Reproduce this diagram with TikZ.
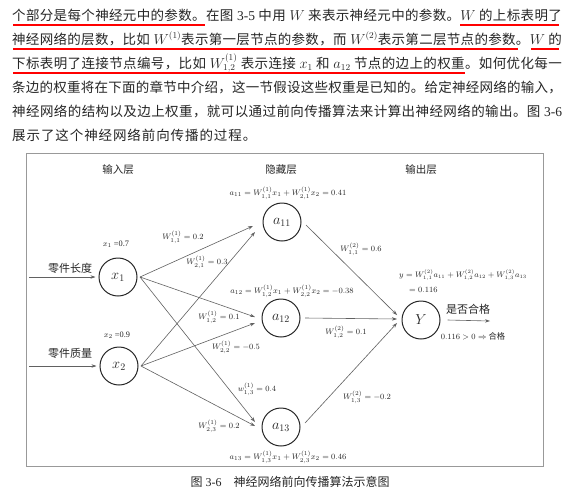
\documentclass[tikz,border=0pt]{standalone}
\usepackage{fontspec}
\setmainfont{Liberation Serif}
\newfontfamily\cjk{Noto Sans CJK SC}
\usetikzlibrary{arrows.meta,calc}
\newcommand\zhend{\relax}
\makeatletter
\def\zh@loop#1{\ifx#1\zhend\else#1\hskip 0pt plus 1fil\expandafter\zh@loop\fi}
\newcommand\zh[1]{{\cjk\zh@loop#1\zhend}}
\makeatother
\definecolor{ink}{gray}{0.15}
\definecolor{edgec}{gray}{0.38}
\definecolor{framec}{gray}{0.6}
\tikzset{
  neuron/.style={circle,draw=ink,line width=1pt,minimum size=38pt,inner sep=0pt,text=ink,font=\fontsize{14.5}{14}\selectfont},
  wlabel/.style={font=\fontsize{8.3}{9}\selectfont,inner sep=0pt,text=ink},
  eqlabel/.style={font=\fontsize{8}{10}\selectfont,inner sep=0pt,text=ink},
  layer/.style={font=\cjk\fontsize{10.5}{12}\selectfont,inner sep=0pt,text=ink},
  inlabel/.style={font=\cjk\fontsize{11}{12}\selectfont,inner sep=0pt,text=ink},
  conn/.style={draw=edgec,line width=0.6pt,-{Stealth[length=5pt,width=3.4pt]}},
  body/.style={anchor=base west,inner sep=0pt,font=\fontsize{13.5}{16}\selectfont,text=ink},
  redline/.style={draw=red,line width=1.8pt}
}
\begin{document}
\begin{tikzpicture}[x=1pt,y=-1pt]
\useasboundingbox (0,0) rectangle (572,490);
\fill[white] (0,0) rectangle (572,490);
% body text
\node[body] (t1) at (12,20) {\hbox to 550pt{\zh{个部分是每个神经元中的参数。在图} 3-5 \zh{中用} $W$ \zh{来表示神经元中的参数。}$W$ \zh{的上标表明了}}};
\node[body] (t2) at (12,44) {\hbox to 550pt{\zh{神经网络的层数，比如} $W^{(1)}$\zh{表示第一层节点的参数，而} $W^{(2)}$\zh{表示第二层节点的参数。}$W$ \zh{的}}};
\node[body] (t3) at (12,68) {\hbox to 550pt{\zh{下标表明了连接节点编号，比如} $W^{(1)}_{1,2}$ \zh{表示连接} $x_1$ \zh{和} $a_{12}$ \zh{节点的边上的权重。如何优化每一}}};
\node[body] (t4) at (12,92) {\hbox to 550pt{\zh{条边的权重将在下面的章节中介绍，这一节假设这些权重是已知的。给定神经网络的输入，}}};
\node[body] (t5) at (12,116) {\hbox to 550pt{\zh{神经网络的结构以及边上权重，就可以通过前向传播算法来计算出神经网络的输出。图} 3-6}};
\node[body] (t6) at (12,140) {\hbox to 245pt{\zh{展示了这个神经网络前向传播的过程。}}};
% red underlines
\draw[redline] (13,25) -- (205,25);
\draw[redline] (460,25) -- (559,25);
\draw[redline] (13,49) -- (518,49);
\draw[redline] (531,49) -- (559,49);
\draw[redline] (13,73) -- (465,73);
% frame
\draw[framec,line width=0.8pt] (26,153) rectangle (543,466);
% layer titles
\node[layer] (L1) at (118,170) {输入层};
\node[layer] (L2) at (281,170) {隐藏层};
\node[layer] (L3) at (421,170) {输出层};
% neurons
\node[neuron] (x1) at (118,277) {$x_1$};
\node[neuron] (x2) at (119,366) {$x_2$};
\node[neuron] (a11) at (282,222) {$a_{11}$};
\node[neuron] (a12) at (281,318) {$a_{12}$};
\node[neuron] (a13) at (281,427) {$a_{13}$};
\node[neuron] (Y) at (421,320) {$Y$};
% inputs
\node[inlabel] (in1l) at (70,268) {零件长度};
\node[inlabel] (in2l) at (70,353) {零件质量};
\coordinate (in1) at (29,277);
\coordinate (in2) at (29,366);
\draw[conn] (in1) -- ([xshift=-3pt]x1.west);
\draw[conn] (in2) -- ([xshift=-3pt]x2.west);
\node[wlabel] (x1v) at (116,244) {$x_1$ =0.7};
\node[wlabel] (x2v) at (117,335) {$x_2$ =0.9};
% input -> hidden
\draw[conn] ($(x1)+(22,0)$) -- ($(a11)+(-29,4)$);
\draw[conn] ($(x2)+(22,0)$) -- ($(a11)+(-27,10)$);
\draw[conn] ($(x1)+(22,0)$) -- ($(a12)+(-26,-1)$);
\draw[conn] ($(x2)+(22,0)$) -- ($(a12)+(-26,5)$);
\draw[conn] ($(x1)+(22,0)$) -- ($(a13)+(-26,-5)$);
\draw[conn] ($(x2)+(22,0)$) -- ($(a13)+(-26,-1)$);
% hidden -> output
\draw[conn] ($(a11)+(24,3)$) -- ($(Y)+(-24,-5)$);
\draw[conn] ($(a12)+(24,0)$) -- ($(Y)+(-24,-1)$);
\draw[conn] ($(a13)+(24,-4)$) -- ($(Y)+(-24,3)$);
% weight labels
\node[wlabel] (w111) at (183,237) {$W^{(1)}_{1,1} = 0.2$};
\node[wlabel] (w121) at (207,262) {$W^{(1)}_{2,1} = 0.3$};
\node[wlabel] (w112) at (219,317) {$W^{(1)}_{1,2} = 0.1$};
\node[wlabel] (w122) at (236,347) {$W^{(1)}_{2,2} = -0.5$};
\node[wlabel] (w113) at (257,389) {$w^{(1)}_{1,3} = 0.4$};
\node[wlabel] (w123) at (219,426) {$W^{(1)}_{2,3} = 0.2$};
\node[wlabel] (w211) at (361,249) {$W^{(2)}_{1,1} = 0.6$};
\node[wlabel] (w212) at (346,332) {$W^{(2)}_{1,2} = 0.1$};
\node[wlabel] (w213) at (367,397) {$W^{(2)}_{1,3} = -0.2$};
% equations
\node[eqlabel] (eqa11) at (288,193) {$a_{11} = W^{(1)}_{1,1}x_1 + W^{(1)}_{2,1}x_2 = 0.41$};
\node[eqlabel] (eqa12) at (292,291) {$a_{12} = W^{(1)}_{1,2}x_1 + W^{(1)}_{2,2}x_2 = -0.38$};
\node[eqlabel] (eqa13) at (288,457) {$a_{13} = W^{(1)}_{1,3}x_1 + W^{(1)}_{2,3}x_2 = 0.46$};
\node[eqlabel,anchor=west,font=\fontsize{7.6}{9}\selectfont] (eqy) at (399,275) {$y = W^{(2)}_{1,1}a_{11} + W^{(2)}_{1,2}a_{12} + W^{(2)}_{1,3}a_{13}$};
\node[eqlabel,anchor=west] (eqy2) at (409,290) {$= 0.116$};
% output
\coordinate (out) at (490,321);
\draw[conn] ([xshift=7pt]Y.east) -- (out);
\node[inlabel] (q) at (468,309) {是否合格};
\node[wlabel] (res) at (473,336) {$0.116 > 0 \Rightarrow$ \zh{合格}};
% caption
\node[inner sep=0pt,text=ink,font=\fontsize{12}{14}\selectfont] (cap) at (290,482) {\zh{图} 3-6\quad\zh{神经网络前向传播算法示意图}};
\end{tikzpicture}
\end{document}
